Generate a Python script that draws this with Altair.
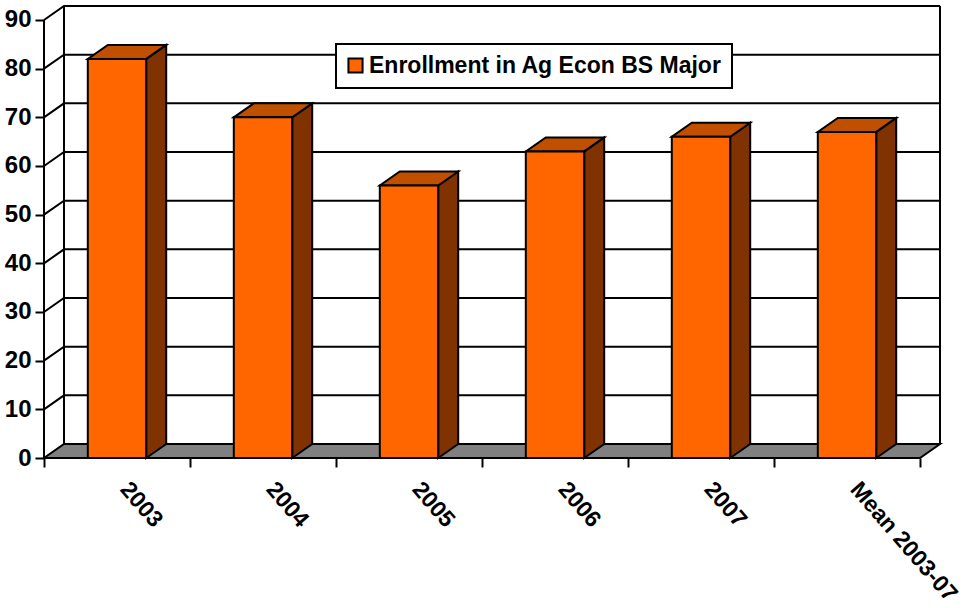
import altair as alt
import pandas as pd

# Enrollment figures
categories = ["2003", "2004", "2005", "2006", "2007", "Mean 2003-07"]
enrollment = [82, 70, 56, 63, 66, 67]
y_ticks = [0, 10, 20, 30, 40, 50, 60, 70, 80, 90]
series_name = "Enrollment in Ag Econ BS Major"

# Oblique projection: how far the back of the box is shifted, in axis units
DX = 20 / 146
DY = 14 / 4.867
BAR_L, BAR_R = 0.30, 0.70
X_MAX = 896 / 146
Y_MAX = 452 / 4.867

FONT = "Liberation Sans"


def slab(face, left, right, base):
    """Horizontal parallelogram, spanning left..right at the front edge."""
    return [
        {"face": face, "x": left, "lo": base, "hi": base},
        {"face": face, "x": left + DX, "lo": base, "hi": base + DY},
        {"face": face, "x": right, "lo": base, "hi": base + DY},
        {"face": face, "x": right + DX, "lo": base + DY, "hi": base + DY},
    ]


tops, sides, fronts = [], [], []
for i, v in enumerate(enrollment):
    left, right = i + BAR_L, i + BAR_R
    tops += slab(f"t{i}", left, right, v)
    sides += [
        {"face": f"s{i}", "x": right, "lo": 0, "hi": v},
        {"face": f"s{i}", "x": right + DX, "lo": DY, "hi": v + DY},
    ]
    fronts.append({"x": left, "x2": right, "y": 0, "y2": v, "series": series_name})

grid = []
for v in y_ticks[1:]:
    grid += [
        {"level": v, "order": 0, "x": 0, "y": v},
        {"level": v, "order": 1, "x": DX, "y": v + DY},
        {"level": v, "order": 2, "x": 6 + DX, "y": v + DY},
    ]

walls = pd.DataFrame(
    [
        {"x": DX, "y": DY, "y2": 90 + DY},
        {"x": 6 + DX, "y": DY, "y2": 90 + DY},
    ]
)
y_axis_line = pd.DataFrame([{"x": 0, "y": 0, "y2": 90}])

x_scale = alt.Scale(domain=[0, X_MAX], nice=False, zero=False)
y_scale = alt.Scale(domain=[0, Y_MAX], nice=False, zero=False)
label_lookup = str(categories + [""])

x_axis = alt.Axis(
    values=list(range(7)),
    title=None,
    grid=False,
    domain=False,
    tickSize=9,
    tickWidth=2,
    tickColor="black",
    labelExpr=f"{label_lookup}[datum.value]",
    labelAngle=49,
    labelAlign="left",
    labelBaseline="middle",
    labelOffset=80,
    labelPadding=18,
    labelFont=FONT,
    labelFontSize=23,
    labelFontWeight="bold",
    labelColor="black",
    labelOverlap=False,
    labelBound=False,
    labelFlush=False,
)
y_axis = alt.Axis(
    values=y_ticks,
    title=None,
    grid=False,
    domain=False,
    tickSize=9,
    tickWidth=2,
    tickColor="black",
    labelPadding=4,
    labelFont=FONT,
    labelFontSize=24,
    labelFontWeight="bold",
    labelColor="black",
    labelOverlap=False,
)

X = alt.X("x:Q", scale=x_scale, axis=x_axis)
Y = alt.Y("y:Q", scale=y_scale, axis=y_axis)
Y_LO = alt.Y("lo:Q", scale=y_scale, axis=y_axis)

# Back wall grid, bending along the left side wall
grid_layer = (
    alt.Chart(pd.DataFrame(grid))
    .mark_line(color="black", strokeWidth=2)
    .encode(x=X, y=Y, detail="level:N", order="order:Q")
)
wall_layer = (
    alt.Chart(walls)
    .mark_rule(color="black", strokeWidth=2)
    .encode(x=X, y=Y, y2="y2:Q")
)
axis_line_layer = (
    alt.Chart(y_axis_line)
    .mark_rule(color="black", strokeWidth=2)
    .encode(x=X, y=Y, y2="y2:Q")
)


def faces(rows, fill):
    return (
        alt.Chart(pd.DataFrame(rows))
        .mark_area(fill=fill, stroke="black", strokeWidth=2, orient="vertical", interpolate="linear")
        .encode(x=X, y=Y_LO, y2="hi:Q", detail="face:N")
    )


floor_layer = faces(slab("floor", 0, 6, 0), "#808080")
side_layer = faces(sides, "#803300")
top_layer = faces(tops, "#C05000")

front_layer = (
    alt.Chart(pd.DataFrame(fronts))
    .mark_rect(stroke="black", strokeWidth=2)
    .encode(
        x=X,
        x2="x2:Q",
        y=Y,
        y2="y2:Q",
        color=alt.Color(
            "series:N",
            scale=alt.Scale(domain=[series_name], range=["#FF6600"]),
            legend=alt.Legend(
                title=None,
                orient="none",
                legendX=292,
                legendY=38,
                fillColor="white",
                strokeColor="black",
                padding=10,
                symbolType="square",
                symbolSize=200,
                symbolOffset=-2,
                symbolStrokeColor="black",
                symbolStrokeWidth=2,
                symbolOpacity=1,
                labelFont=FONT,
                labelFontSize=23,
                labelFontWeight="bold",
                labelColor="black",
                labelLimit=500,
                labelOffset=2,
            ),
        ),
    )
)

chart = (
    alt.layer(
        grid_layer,
        wall_layer,
        axis_line_layer,
        floor_layer,
        side_layer,
        top_layer,
        front_layer,
    )
    .properties(
        width=896,
        height=452,
        background="white",
        padding={"left": 44, "top": 6, "right": 24, "bottom": 150},
        autosize=alt.AutoSizeParams(type="none"),
    )
    .configure_view(stroke=None)
    .configure_legend(strokeWidth=2)
)

chart.save("out.html", embed_options={"renderer": "svg", "actions": False})
